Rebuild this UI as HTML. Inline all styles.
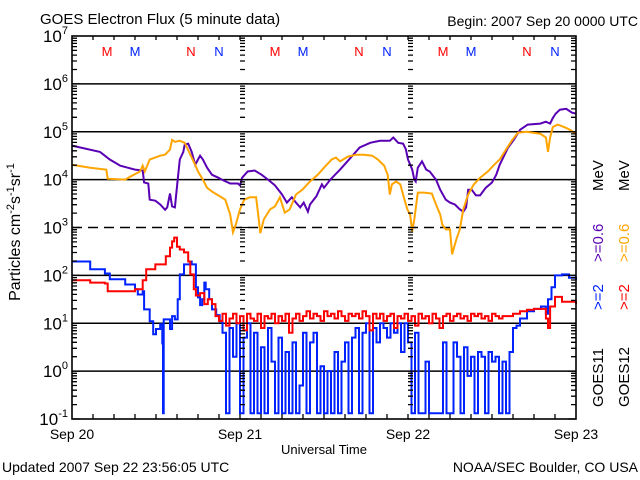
<!DOCTYPE html>
<html><head><meta charset="utf-8"><style>
body{margin:0;background:#fff;}
svg{display:block;font-family:"Liberation Sans",sans-serif;}
</style></head><body>
<svg id="c" width="640" height="480" viewBox="0 0 640 480">
<text x="40" y="24" font-size="15">GOES Electron Flux (5 minute data)</text>
<text x="638" y="26" font-size="14" text-anchor="end">Begin: 2007 Sep 20 0000 UTC</text>
<text x="2" y="472" font-size="14">Updated 2007 Sep 22 23:56:05 UTC</text>
<text x="638" y="472" font-size="14" text-anchor="end">NOAA/SEC Boulder, CO USA</text>
<text x="324" y="454" font-size="13" text-anchor="middle">Universal Time</text>
<text transform="translate(20,232) rotate(-90)" font-size="16" text-anchor="middle">Particles cm<tspan dy="-6" font-size="11">-2</tspan><tspan dy="6">s</tspan><tspan dy="-6" font-size="11">-1</tspan><tspan dy="6">sr</tspan><tspan dy="-6" font-size="11">-1</tspan></text>
<g id="grid"></g><g id="series"></g><g id="axes"></g><g id="labels"></g>
<g font-size="15">
<text transform="translate(603,407) rotate(-90)">GOES11</text>
<text transform="translate(603,310) rotate(-90)" fill="#0022ff">&gt;=2</text>
<text transform="translate(603,262) rotate(-90)" fill="#5a00b4">&gt;=0.6</text>
<text transform="translate(603,191) rotate(-90)">MeV</text>
<text transform="translate(629,407) rotate(-90)">GOES12</text>
<text transform="translate(629,310) rotate(-90)" fill="#ff0000">&gt;=2</text>
<text transform="translate(629,262) rotate(-90)" fill="#ffa500">&gt;=0.6</text>
<text transform="translate(629,191) rotate(-90)">MeV</text>
</g>
</svg>
<script>
const dayLabels=["Sep 20","Sep 21","Sep 22","Sep 23"];
const decades=[7,6,5,4,3,2,1,0,-1];
const markerLabels=["M","M","N","N"];
const markerHours=[5,9,17,21];
const purpleH=[0,4,5.4,6.9,9,10.1,10.3,10.9,11.1,11.9,12.6,13.3,13.6,14,14.3,14.7,15.1,15.4,15.9,16.1,16.6,17.1,17.6,18,18.3,18.7,19.3,20,20.9,21.4,22.6,23.7,24,24.3,25.1,26.1,27.1,28,29,30,30.7,31.4,32,32.6,33.1,33.7,34,34.9,35.7,36,36.9,38.3,39.7,41.1,42.6,44,45.4,45.9,46.6,47.3,47.7,48,48.6,48.9,49.1,49.4,50,50.6,51.1,52,52.6,53.4,54,54.7,55.4,55.9,56.3,56.6,57.1,57.7,58.3,59.1,60,60.6,61.1,62.3,63.1,64,65.1,66.9,67.7,68.3,68.7,69.1,69.7,70.6,71.4,72];
const purpleV=[4.71,4.58,4.42,4.29,4.21,4.19,3.94,3.92,3.58,3.56,3.48,3.37,3.42,3.71,3.44,3.42,4.0,4.42,4.58,4.73,4.75,4.58,4.31,4.42,4.5,4.42,4.25,4.1,4.04,4.0,3.92,3.92,3.88,4.04,4.17,4.19,4.1,4.0,3.88,3.69,3.52,3.63,3.52,3.42,3.52,3.33,3.48,3.65,3.9,3.83,4.0,4.21,4.44,4.67,4.77,4.81,4.81,4.88,4.77,4.75,4.63,4.42,4.21,4.0,3.96,4.25,4.38,4.21,4.17,4.0,3.79,3.58,3.52,3.48,3.38,3.33,3.42,3.79,3.79,3.67,3.67,3.83,3.94,4.1,4.31,4.67,4.83,5.04,5.15,5.17,5.21,5.17,5.29,5.38,5.46,5.48,5.4,5.38];
const orangeH=[0,2.6,4.9,5.1,7.6,8.3,9.7,10.1,10.4,11.1,12.6,13.3,14,14.3,14.7,15.4,16.1,16.9,17.6,18,18.7,19.3,20,20.9,21.9,22.6,23,23.4,24,24.6,25.4,26.3,26.6,26.9,27.4,28.3,29,29.7,30.4,31.1,32,32.9,34,35.1,36,37.1,37.7,38.3,39.4,40.6,41.7,42.9,43.7,44.6,45.1,45.4,45.7,46.3,46.9,47.4,47.9,48.3,48.6,48.9,49.4,50.3,51.4,52,52.6,52.9,53.4,54,54.3,54.9,55.4,55.9,56.6,57.4,58.3,59.4,60.3,61.1,62,62.9,63.7,64.9,66.9,67.7,68,68.3,68.7,69.4,70.6,71.4,72];
const orangeV=[4.31,4.25,4.21,4.02,4.0,4.06,4.17,4.29,4.17,4.42,4.5,4.52,4.63,4.83,4.79,4.81,4.77,4.52,4.31,4.17,4.0,3.83,3.75,3.67,3.58,3.27,2.9,3.06,3.38,3.58,3.63,3.63,3.27,2.88,3.17,3.38,3.44,3.63,3.31,3.38,3.69,3.79,3.96,4.1,4.25,4.42,4.46,4.38,4.48,4.52,4.52,4.5,4.42,4.29,4.1,3.69,3.9,3.96,3.9,3.63,3.38,3.27,2.92,3.17,3.73,3.73,3.71,3.48,3.27,3.06,2.96,2.96,2.44,2.75,2.96,3.38,3.69,3.9,4.04,4.17,4.31,4.42,4.63,4.83,4.98,5.0,4.96,4.88,4.58,4.88,5.1,5.15,5.08,5.02,4.94];
const redH=[0,2.6,4.7,5.1,7.6,9,10.1,10.6,11.9,13,13.4,14,14.3,14.6,15,15.4,16,16.6,16.9,17.4,17.7,18.3,18.9,19.4,20];
const redV=[1.9,1.85,1.83,1.67,1.67,1.71,1.9,2.13,2.23,2.23,2.4,2.58,2.71,2.79,2.6,2.54,2.48,2.29,2.02,1.71,1.58,1.63,1.4,1.5,1.4];
const redNoiseStart=20.5;
const redNoiseV=[1.15,1.05,1.2,0.95,1.1,1.2,1.0,1.15,0.85,1.2,1.1,1.05,1.2,0.9,1.15,1.1,1.2,1.0,1.15,1.05,1.2,0.8,1.1,1.2,1.05,1.15,1.25,1.1,1.2,1.15,1.05,1.25,1.15,1.2,1.1,1.25,1.15,1.05,1.2,1.15,1.2,1.1,1.25,1.15,0.85,1.2,1.1,1.2,1.05,1.15,1.2,0.9,1.15,1.1,1.2,1.05,1.15,0.95,1.2,1.1,1.15,1.0,1.2,1.1,0.9,1.15,1.2,1.05,1.15,1.2,1.1,1.15,1.05,1.2,1.15,1.2,1.1,1.15,1.05,1.2,1.15,1.1];
const redTailH=[61.5,62,63,64,65,66,67,67.7,68,68.3,69,70,71,72];
const redTailV=[1.15,1.15,1.2,1.25,1.28,1.3,1.3,1.1,0.9,1.35,1.55,1.45,1.45,1.4];
const blueH=[0,2.6,4.7,5.4,7.6,9,9.4,10.1,10.3,11.1,11.6,12,12.6,12.9,13,13.1,13.7,14,14.3,14.7,15.1,15.4,16,16.9,17.1,17.7,18,18.3,18.6,18.9,19.1,19.6,20,20.6,21.1];
const blueV=[2.29,2.13,2.04,1.92,1.81,1.71,1.6,1.67,1.29,1.04,0.77,0.88,0.98,0.58,-0.88,1.08,1.08,0.88,1.15,1.08,1.5,2.02,2.23,2.29,2.23,1.75,1.54,1.38,1.5,1.85,1.71,1.5,1.29,1.17,1.04];
const blueNoiseStart=21.5;
const blueNoiseV=[0.8,-0.9,0.9,0.3,1.0,-0.9,0.7,1.0,-0.9,0.8,-0.9,0.5,-0.9,0.9,0.2,-0.9,0.7,-0.9,0.4,-0.9,0.6,-0.9,-0.3,0.8,-0.9,0.6,0.8,-0.9,0.1,-0.9,0.0,-0.9,0.4,-0.9,0.2,0.6,-0.9,0.7,0.9,-0.9,0.8,1.0,-0.9,0.9,0.6,1.0,0.9,0.7,1.0,0.8,1.0,0.4,1.0,0.6,-0.9,0.8,-0.9,-0.9,0.2,-0.9,-0.9,-0.9,-0.9,0.6,-0.9,-0.9,0.6,0.3,-0.9,0.5,-0.1,0.3,-0.9,0.4,0.3,-0.9,0.4,0.2,0.3,-0.9,0.2,-0.9,0.4,0.9];
const blueTailH=[63.5,64,65,66,67,67.7,68,68.5,69,70,71,72];
const blueTailV=[0.95,1.1,1.25,1.3,1.35,1.2,1.5,1.75,2.0,2.02,1.95,1.9];

const L=72,R=576,T=36,B=419;
const xS=h=>L+(h/72)*(R-L);
const yS=v=>T+(7-v)*(B-T)/8;
const NS="http://www.w3.org/2000/svg";
function mk(tag,attrs,parent){const e=document.createElementNS(NS,tag);for(const k in attrs)e.setAttribute(k,attrs[k]);parent.appendChild(e);return e;}
const grid=document.getElementById('grid'),ser=document.getElementById('series'),axes=document.getElementById('axes'),labs=document.getElementById('labels');

decades.forEach(d=>{
  if(d===7||d===-1)return;
  const g=mk('line',{x1:L,x2:R,y1:yS(d),y2:yS(d),stroke:'#000','stroke-width':1.6},grid);
  if(d===3)g.setAttribute('stroke-dasharray','10,6');
  
  
});

function withNoise(h,v,start,nv,th,tv){
  const H=h.slice(),V=v.slice();
  nv.forEach((x,i)=>{H.push(start+i*0.5);V.push(x);});
  th.forEach((x,i)=>{H.push(x);V.push(tv[i]);});
  return [H,V];
}
function drawLine(H,V,color,name,step){
  let d='';
  H.forEach((h,i)=>{
    const x=xS(h).toFixed(1),y=yS(Math.max(-0.88,V[i])).toFixed(1);
    if(i===0)d+=`M${x} ${y}`;
    else if(step)d+=`H${x}V${y}`;
    else d+=`L${x} ${y}`;
  });
  const p=mk('path',{d:d,fill:'none',stroke:color,'stroke-width':2,'stroke-linejoin':'miter'},ser);
  
  
}
drawLine(purpleH,purpleV,'#5a00b4','series-goes11-0.6mev',false);
drawLine(orangeH,orangeV,'#ffa500','series-goes12-0.6mev',false);
const bl=withNoise(blueH,blueV,blueNoiseStart,blueNoiseV,blueTailH,blueTailV);
drawLine(bl[0],bl[1],'#0022ff','series-goes11-2mev',true);
const rd=withNoise(redH,redV,redNoiseStart,redNoiseV,redTailH,redTailV);
drawLine(rd[0],rd[1],'#ff0000','series-goes12-2mev',true);

const fr=mk('rect',{x:L,y:T,width:R-L,height:B-T,fill:'none',stroke:'#000','stroke-width':1.6},axes);


const ytx=[[L,1],[240,1],[408,1],[R,-1]];
let tk='';
decades.forEach(d=>{
  if(d===-1)return;
  for(let m=1;m<10;m++){
    const y=yS(d-1+Math.log10(m));
    const len=m===1?8:5;
    ytx.forEach(([x,s])=>{tk+=`M${x} ${y.toFixed(1)}h${s*len}`;});
  }
});
for(let h=3;h<72;h+=3){const x=xS(h);tk+=`M${x} ${B}v-5M${x} ${T}v4`;}
const tp=mk('path',{d:tk,stroke:'#000','stroke-width':1.3,fill:'none'},axes);



decades.forEach(d=>{
  const t=mk('text',{x:L-4,y:yS(d)+6,'font-size':17,'text-anchor':'end'},labs);
  
  
  t.innerHTML='10<tspan dy="-8" font-size="11">'+d+'</tspan>';
});
dayLabels.forEach((s,i)=>{
  const t=mk('text',{x:xS(i*24),y:439,'font-size':14,'text-anchor':'middle'},labs);
  
  
  t.textContent=s;
});
for(let d=0;d<3;d++){
  markerHours.forEach((h,i)=>{
    const t=mk('text',{x:xS(d*24+h),y:56,'font-size':13,'text-anchor':'middle',fill:i%2===0?'#ff0000':'#0022ff'},labs);
    
    
    t.textContent=markerLabels[i];
  });
}
</script>
</body></html>
